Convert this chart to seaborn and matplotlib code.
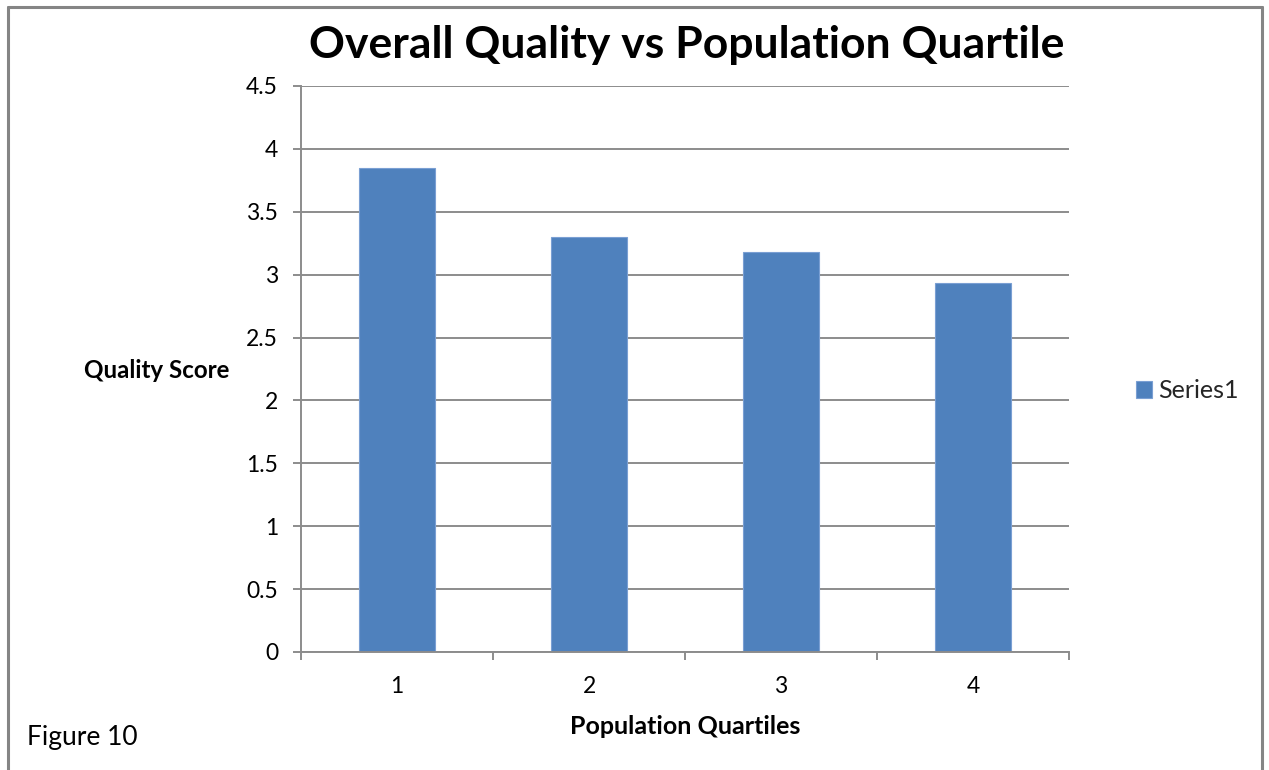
import matplotlib
matplotlib.use("Agg")
import matplotlib.pyplot as plt
import seaborn as sns
import pandas as pd
import numpy as np
from matplotlib.lines import Line2D
from matplotlib.ticker import FixedLocator

# Data
quartiles = ["1", "2", "3", "4"]
quality_scores = [3.85, 3.30, 3.18, 2.93]
series_name = "Series1"
y_ticks = [0, 0.5, 1, 1.5, 2, 2.5, 3, 3.5, 4, 4.5]
y_tick_labels = ["0", "0.5", "1", "1.5", "2", "2.5", "3", "3.5", "4", "4.5"]

sns.set_theme(style="white")
plt.rcParams["font.family"] = ["Lato", "DejaVu Sans"]

df = pd.DataFrame({"quartile": quartiles, "score": quality_scores, "series": series_name})

W, H = 1269, 770
fig = plt.figure(figsize=(W / 100, H / 100), dpi=100)
fig.patch.set_facecolor("white")
ax = fig.add_axes([301 / W, 118 / H, 768 / W, 566 / H])

bar_color = "#4f81bd"
sns.barplot(data=df, x="quartile", y="score", hue="series", palette=[bar_color],
            width=0.4, saturation=1, edgecolor="#7a9fd3", linewidth=0.8,
            ax=ax, legend=True)

grid_color = "#8c8c8c"
ax.set_ylim(0, 4.5)
ax.set_xlim(-0.5, 3.5)
ax.set_yticks(y_ticks)
ax.set_yticklabels(y_tick_labels)
ax.yaxis.grid(True, color=grid_color, linewidth=1.4)
ax.set_axisbelow(True)
for side in ["top", "right"]:
    ax.spines[side].set_visible(False)
for side in ["left", "bottom"]:
    ax.spines[side].set_color(grid_color)
    ax.spines[side].set_linewidth(1.4)

ax.tick_params(axis="y", which="major", direction="out", length=5.5, width=1.4,
               color=grid_color, labelsize=16.5, labelcolor="black", pad=11, left=True)
ax.xaxis.set_minor_locator(FixedLocator(np.arange(-0.5, 4.0, 1.0)))
ax.tick_params(axis="x", which="minor", direction="out", length=5.5, width=1.4,
               color=grid_color, bottom=True)
ax.tick_params(axis="x", which="major", length=0, labelsize=16.5, labelcolor="black", pad=17)
ax.set_xlabel("")
ax.set_ylabel("")

# Legend at right of plot area
sns.move_legend(ax, loc="center left", bbox_to_anchor=((1136 - 301) / 768, (379 - 118) / 566),
                frameon=False, title=None, fontsize=18, handlelength=0.65,
                handleheight=0.65, handletextpad=0.25, borderaxespad=0, borderpad=0)

# Titles and labels
fig.text(687 / W, 1 - 45 / H, "Overall Quality vs Population Quartile", ha="center",
         va="center", fontsize=32, fontweight="bold", color="black")
fig.text(157 / W, 1 - 370 / H, "Quality Score", ha="center", va="center",
         fontsize=17.4, fontweight="bold", color="black")
fig.text(685 / W, 1 - 727 / H, "Population Quartiles", ha="center", va="center",
         fontsize=18, fontweight="bold", color="black")
fig.text(27 / W, 1 - 737 / H, "Figure 10", ha="left", va="center",
         fontsize=19, color="black")

# Frame around the chart (left, top and right edges)
frame_color = "#858585"
x0, x1, y1 = 7.5 / W, 1261.5 / W, 1 - 6.5 / H
fig.add_artist(Line2D([x0, x0], [0, y1], color=frame_color, linewidth=2.2, transform=fig.transFigure))
fig.add_artist(Line2D([x0, x1], [y1, y1], color=frame_color, linewidth=2.2, transform=fig.transFigure))
fig.add_artist(Line2D([x1, x1], [0, y1], color=frame_color, linewidth=2.2, transform=fig.transFigure))

fig.savefig("out.png", dpi=100, facecolor="white")
